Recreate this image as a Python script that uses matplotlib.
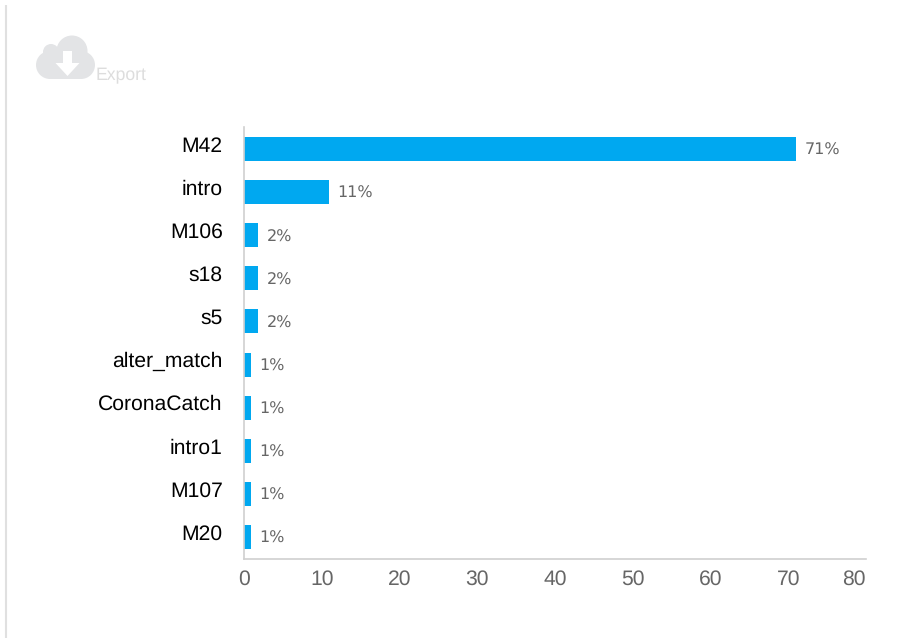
import numpy as np
import matplotlib
matplotlib.use('Agg')
import matplotlib.pyplot as plt
from matplotlib.patches import Circle, Rectangle, Polygon
from matplotlib.transforms import ScaledTranslation

# ==================== DATA ====================
categories = ['M42', 'intro', 'M106', 's18', 's5', 'alter_match',
              'CoronaCatch', 'intro1', 'M107', 'M20']
values = [71.0, 10.9, 1.8, 1.8, 1.8, 0.9, 0.9, 0.9, 0.9, 0.9]
x_ticks = [0, 10, 20, 30, 40, 50, 60, 70, 80]

W, H = 897, 638
BAR_COLOR = '#00a8f0'
GRID_GREY = '#d0d0d0'
TEXT_GREY = '#666666'
ICON_GREY = '#e3e4e6'

plt.rcParams['font.family'] = ['Liberation Sans', 'DejaVu Sans']
plt.rcParams['text.hinting'] = 'none'

fig = plt.figure(figsize=(W / 100, H / 100), dpi=100)

# plot area given in pixels
left, right, top, bottom = 244, 866, 127.5, 558.5
ax = fig.add_axes([left / W, 1 - bottom / H, (right - left) / W, (bottom - top) / H])

y = np.arange(len(categories))
bars = ax.barh(y, values, height=0.557, color=BAR_COLOR)
ax.set_xlim(0, 80)
ax.set_ylim(len(categories) - 0.5, -0.5)

for spine in ['top', 'right']:
    ax.spines[spine].set_visible(False)
for spine in ['left', 'bottom']:
    ax.spines[spine].set_color(GRID_GREY)
    ax.spines[spine].set_linewidth(1.2)

ax.set_xticks(x_ticks)
ax.set_yticks(y)
ax.set_yticklabels(categories)
ax.tick_params(axis='x', length=0, pad=8, labelsize=15.2, labelcolor=TEXT_GREY)
ax.tick_params(axis='y', length=0, pad=15.4, labelsize=15.2, labelcolor='black')

# category labels sit slightly above the bar centres
lift = ScaledTranslation(0, 5 / 100, fig.dpi_scale_trans)
for label in ax.get_yticklabels():
    label.set_transform(label.get_transform() + lift)

# last tick label is pulled inside the chart edge
ax.get_xticklabels()[-1].set_ha('right')

for bar, val in zip(bars, values):
    ax.annotate(f'{val:.0f}%', (val, bar.get_y() + bar.get_height() / 2),
                xytext=(6.2, -1.2), textcoords='offset points',
                ha='left', va='center', fontsize=11.5, color=TEXT_GREY,
                family='DejaVu Sans')

# overlay in pixel coordinates for the page border and the export icon
overlay = fig.add_axes([0, 0, 1, 1], zorder=-1)
overlay.set_xlim(0, W)
overlay.set_ylim(H, 0)
overlay.axis('off')

overlay.plot([6, 6], [5, H], color='#e0e0e0', lw=1.5, solid_capstyle='butt')

for cx, cy, r in [(72, 51, 15.5), (51, 52, 8), (50, 65, 14), (81, 65, 14)]:
    overlay.add_patch(Circle((cx, cy), r, color=ICON_GREY, lw=0))
overlay.add_patch(Rectangle((50, 50), 31, 29, color=ICON_GREY, lw=0))
overlay.add_patch(Polygon([(63, 51), (72, 51), (72, 63), (79.5, 63), (67.5, 76),
                           (55.5, 63), (63, 63)], color='white', lw=0))
overlay.text(95.5, 80, 'Export', fontsize=12.7, color='#dddddd', ha='left', va='baseline')

fig.savefig('out.png', dpi=100)
